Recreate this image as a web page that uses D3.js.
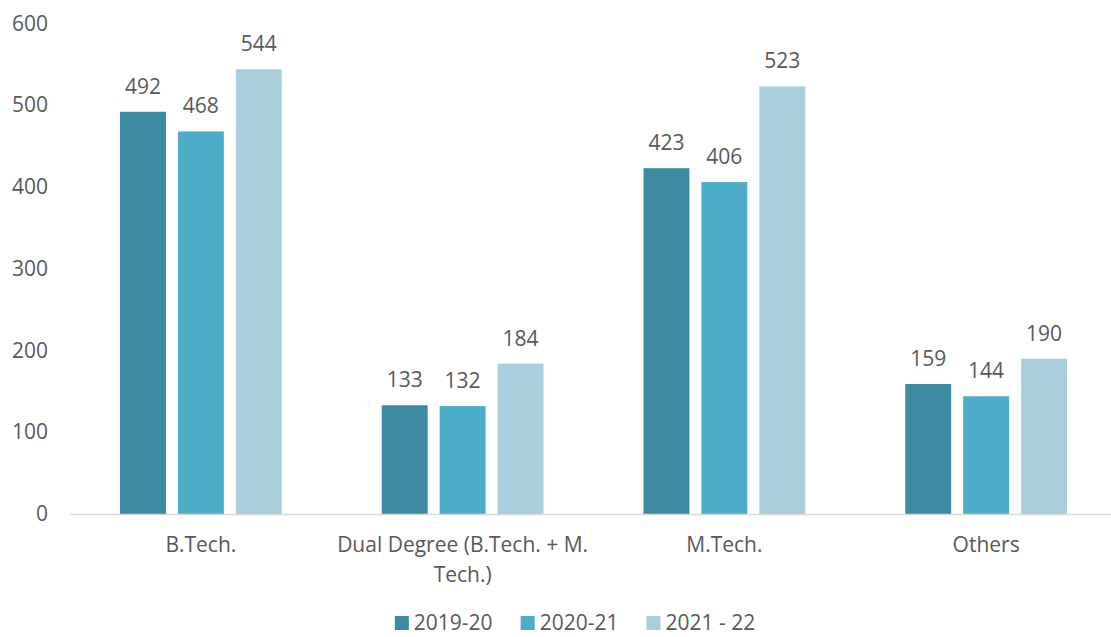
<!DOCTYPE html>
<html>
<head>
<meta charset="utf-8">
<script src="https://cdn.jsdelivr.net/npm/d3@7"></script>
<style>
  body { margin: 0; background: #fff; }
  svg text { font-family: "Open Sans", sans-serif; fill: #595959; }
</style>
</head>
<body>
<svg id="chart"></svg>
<script>
// Data
const categories = ["B.Tech.", "Dual Degree (B.Tech. + M. Tech.)", "M.Tech.", "Others"];
const years = ["2019-20", "2020-21", "2021 - 22"];
const values2019 = [492, 133, 423, 159];
const values2020 = [468, 132, 406, 144];
const values2021 = [544, 184, 523, 190];
const yTicks = [0, 100, 200, 300, 400, 500, 600];
const colors = ["#3C8BA1", "#4BADC6", "#A9CFDD"];

const seriesValues = [values2019, values2020, values2021];
const data = categories.map((c, i) => ({
  cat: c,
  vals: years.map((y, j) => ({ year: y, value: seriesValues[j][i] }))
}));

const W = 1111, H = 637;
const FS = "21px";
const svg = d3.select("#chart").attr("width", W).attr("height", H);

// Scales
const x0 = d3.scaleBand().domain(categories).range([70, 1117]);
const x1 = d3.scaleBand().domain(years).range([50, x0.bandwidth() - 50]).paddingInner(12 / 58).paddingOuter(0);
const y = d3.scaleLinear().domain([0, 600]).range([514, 23.5]);

// y axis (labels only)
const yAxis = svg.append("g")
  .attr("transform", "translate(70,0)")
  .call(d3.axisLeft(y).tickValues(yTicks).tickSize(0).tickPadding(22));
yAxis.select(".domain").remove();
yAxis.selectAll("text").style("font-size", FS).style("font-family", "'Open Sans', sans-serif").attr("fill", "#595959");

// bars
const groups = svg.selectAll(".grp").data(data).enter().append("g")
  .attr("class", "grp")
  .attr("transform", d => `translate(${x0(d.cat)},0)`);

groups.selectAll("rect").data(d => d.vals).enter().append("rect")
  .attr("x", d => x1(d.year))
  .attr("width", x1.bandwidth())
  .attr("y", d => y(d.value))
  .attr("height", d => y(0) - y(d.value))
  .attr("fill", (d, i) => colors[i]);

groups.selectAll(".lbl").data(d => d.vals).enter().append("text")
  .attr("class", "lbl")
  .attr("x", d => x1(d.year) + x1.bandwidth() / 2)
  .attr("y", d => y(d.value) - 18)
  .attr("text-anchor", "middle")
  .style("font-size", FS)
  .text(d => d.value);

// x axis
const xAxis = svg.append("g")
  .attr("transform", "translate(0,514)")
  .call(d3.axisBottom(x0).tickSize(0).tickPadding(0));
xAxis.select(".domain").attr("stroke", "#D9D9D9").attr("stroke-width", 1.5);
xAxis.selectAll("text")
  .style("font-size", FS)
  .style("font-family", "'Open Sans', sans-serif")
  .attr("fill", "#595959")
  .attr("y", 38)
  .attr("dy", 0)
  .call(wrap, 262);

function wrap(text, width) {
  text.each(function () {
    const t = d3.select(this);
    const words = t.text().split(/\s+/);
    const yy = t.attr("y");
    t.text(null);
    let line = [];
    let lineNo = 0;
    let tspan = t.append("tspan").attr("x", 0).attr("y", yy);
    words.forEach(w => {
      line.push(w);
      tspan.text(line.join(" "));
      if (tspan.node().getComputedTextLength() > width && line.length > 1) {
        line.pop();
        tspan.text(line.join(" "));
        line = [w];
        lineNo++;
        tspan = t.append("tspan").attr("x", 0).attr("y", +yy + lineNo * 30).text(w);
      }
    });
  });
}

// legend
const legend = svg.append("g");
let lx = 0;
years.forEach((yr, i) => {
  const g = legend.append("g").attr("transform", `translate(${lx},0)`);
  g.append("rect").attr("x", 0).attr("y", -14).attr("width", 14).attr("height", 14).attr("fill", colors[i]);
  const t = g.append("text").attr("x", 19).attr("y", 0).style("font-size", FS).text(yr);
  lx += 19 + t.node().getComputedTextLength() + 28;
});
const lw = lx - 28;
legend.attr("transform", `translate(${575 - lw / 2},630)`);
</script>
</body>
</html>
